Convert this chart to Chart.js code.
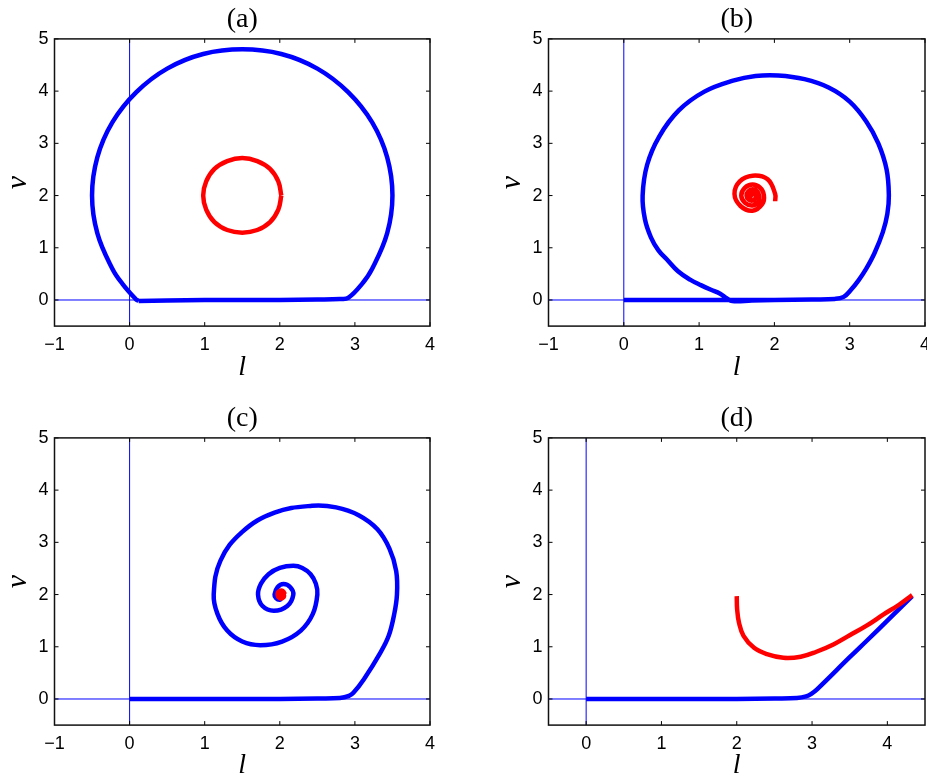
<!DOCTYPE html>
<html>
<head>
<meta charset="utf-8">
<script src="https://cdn.jsdelivr.net/npm/chart.js@4.4.1/dist/chart.umd.min.js"></script>
<style>
  html, body { margin: 0; padding: 0; background: #fff; overflow: hidden; }
  canvas { position: absolute; }
  #pa { left: 0; top: 0; }
  #pb { left: 494px; top: 0; }
  #pc { left: 0; top: 399px; }
  #pd { left: 494px; top: 399px; }
</style>
</head>
<body>
<canvas id="pa" width="463" height="390"></canvas>
<canvas id="pb" width="433" height="390"></canvas>
<canvas id="pc" width="463" height="381"></canvas>
<canvas id="pd" width="433" height="381"></canvas>
<script>
// axes
const yRange = [-0.5, 5];
const yTicks = [0, 1, 2, 3, 4, 5];
const xRangeABC = [-1, 4];
const xTicksABC = [-1, 0, 1, 2, 3, 4];
const xRangeD = [-0.5, 4.5];
const xTicksD = [0, 1, 2, 3, 4];
const titles = ["(a)", "(b)", "(c)", "(d)"];

// trajectories [l, v]
const blueA = [
  [0.12, -0.02], [0.5, -0.01], [1.0, 0.0], [1.5, 0.0], [2.0, 0.0], [2.5, 0.01], [2.8, 0.02],
  [2.91, 0.04], [3.09, 0.3], [3.23, 0.6], [3.43, 1.28], [3.50, 2.0], [3.43, 2.73], [3.23, 3.40],
  [2.91, 3.98], [2.50, 4.43], [2.02, 4.71], [1.50, 4.80], [0.98, 4.71], [0.50, 4.43], [0.09, 3.98],
  [-0.23, 3.40], [-0.43, 2.73], [-0.50, 2.0], [-0.43, 1.28], [-0.23, 0.6], [-0.09, 0.3],
  [0.08, 0.02], [0.12, -0.02]
];
const redA = [
  [2.02, 2.00], [1.98, 2.27], [1.87, 2.51], [1.70, 2.66], [1.50, 2.72], [1.30, 2.66], [1.13, 2.51],
  [1.02, 2.27], [0.98, 2.00], [1.02, 1.73], [1.13, 1.49], [1.30, 1.34], [1.50, 1.29], [1.70, 1.34],
  [1.87, 1.49], [1.98, 1.73], [2.02, 2.00]
];
const blueB = [
  [0.0, 0.0], [0.5, 0.0], [1.0, 0.0], [1.5, 0.0], [2.0, 0.0], [2.5, 0.01], [2.8, 0.02], [2.92, 0.06],
  [3.02, 0.2], [3.12, 0.38], [3.22, 0.6], [3.33, 0.9], [3.44, 1.3], [3.50, 1.65], [3.52, 2.0],
  [3.49, 2.5], [3.38, 3.0], [3.22, 3.42], [3.0, 3.8], [2.72, 4.07], [2.40, 4.23], [2.05, 4.30],
  [1.75, 4.29], [1.45, 4.20], [1.07, 3.99], [0.73, 3.63], [0.47, 3.13], [0.31, 2.59], [0.25, 2.0],
  [0.28, 1.55], [0.36, 1.2], [0.46, 0.95], [0.57, 0.78], [0.72, 0.55], [0.88, 0.39], [1.03, 0.28],
  [1.15, 0.2], [1.28, 0.12], [1.37, 0.03], [1.44, -0.02], [1.7, -0.01], [2.0, 0.0]
];
const redB = [
  [2.01, 1.89], [2.01, 2.03], [1.91, 2.31], [1.71, 2.38], [1.54, 2.27], [1.47, 2.03], [1.55, 1.80],
  [1.71, 1.71], [1.84, 1.84], [1.86, 2.01], [1.81, 2.15], [1.71, 2.21], [1.61, 2.15], [1.56, 2.0],
  [1.61, 1.86], [1.71, 1.81], [1.79, 1.885], [1.797, 2.0], [1.769, 2.084], [1.71, 2.119],
  [1.654, 2.081], [1.63, 2.0], [1.658, 1.925], [1.71, 1.904], [1.747, 1.946], [1.75, 2.0],
  [1.734, 2.034], [1.71, 2.048], [1.686, 2.034], [1.677, 2.0], [1.691, 1.973], [1.71, 1.962]
];
const blueC = [
  [0.0, 0.0], [0.5, 0.0], [1.0, 0.0], [1.5, 0.0], [2.0, 0.0], [2.5, 0.01], [2.8, 0.02], [2.92, 0.06],
  [2.98, 0.12], [3.12, 0.38], [3.34, 0.89], [3.45, 1.21], [3.52, 1.6], [3.56, 2.0], [3.55, 2.45],
  [3.46, 2.88], [3.30, 3.25], [3.05, 3.52], [2.75, 3.67], [2.43, 3.70], [1.93, 3.57],
  [1.50, 3.20], [1.21, 2.65], [1.12, 2.0], [1.17, 1.63], [1.30, 1.31], [1.50, 1.10], [1.74, 1.03],
  [2.03, 1.10], [2.28, 1.31], [2.44, 1.63], [2.50, 2.0], [2.48, 2.21], [2.41, 2.39], [2.30, 2.51],
  [2.18, 2.55], [2.00, 2.51], [1.85, 2.39], [1.75, 2.21], [1.71, 2.0], [1.77, 1.78], [1.92, 1.69],
  [2.10, 1.78], [2.18, 2.0], [2.14, 2.14], [2.05, 2.20], [1.97, 2.14], [1.93, 2.0], [1.95, 1.93],
  [2.0, 1.90], [2.03, 1.95]
];
const redC = [
  [2.07, 2.0], [2.04, 2.07], [1.99, 2.06], [1.97, 2.0], [2.0, 1.93], [2.05, 1.95], [2.05, 2.01],
  [2.02, 2.04], [1.99, 2.0], [2.02, 1.97], [2.03, 2.0]
];
const blueD = [
  [0.0, 0.0], [0.5, 0.0], [1.0, 0.0], [1.5, 0.0], [2.0, 0.0], [2.5, 0.01], [2.8, 0.02], [2.92, 0.05],
  [2.99, 0.1], [3.07, 0.19], [3.5, 0.8], [3.73, 1.12], [4.0, 1.5], [4.33, 1.97]
];
const redD = [
  [2.00, 1.97], [2.005, 1.72], [2.03, 1.46], [2.09, 1.21], [2.23, 0.98], [2.40, 0.86], [2.62, 0.79],
  [2.85, 0.81], [3.05, 0.9], [3.29, 1.05], [3.50, 1.22], [3.73, 1.41], [3.95, 1.62], [4.15, 1.8],
  [4.33, 1.99]
];

const toXY = (pts) => pts.map(([x, y]) => ({ x, y }));
const fmt = (v) => (v < 0 ? "\u2212" + Math.abs(v) : String(v));

// box round the axes + small inward ticks on all four sides
const frame = {
  id: "frame",
  afterDatasetsDraw(chart) {
    const { ctx, chartArea: a, scales } = chart;
    const x = scales.x, y = scales.y;
    ctx.save();
    ctx.strokeStyle = "#000";
    ctx.lineWidth = 1;
    ctx.beginPath();
    x.ticks.forEach((t) => {
      const px = x.getPixelForValue(t.value);
      ctx.moveTo(px, a.bottom); ctx.lineTo(px, a.bottom - 4);
      ctx.moveTo(px, a.top); ctx.lineTo(px, a.top + 4);
    });
    y.ticks.forEach((t) => {
      const py = y.getPixelForValue(t.value);
      ctx.moveTo(a.left, py); ctx.lineTo(a.left + 4, py);
      ctx.moveTo(a.right, py); ctx.lineTo(a.right - 4, py);
    });
    ctx.stroke();
    ctx.lineWidth = 1.5;
    ctx.strokeStyle = "#111";
    ctx.strokeRect(a.left, a.top, a.right - a.left, a.bottom - a.top);
    ctx.restore();
  },
};

function curve(pts, color) {
  return {
    data: toXY(pts),
    showLine: true,
    borderColor: color,
    borderWidth: 4.5,
    pointRadius: 0,
    tension: 0.4,
  };
}

function thin(pts) {
  return { data: toXY(pts), showLine: true, borderColor: "#0000ff", borderWidth: 1, pointRadius: 0 };
}

function makePanel(id, title, xRange, xTicks, red, blue, padRight, axisH, labelPad) {
  const ctx = document.getElementById(id).getContext("2d");
  new Chart(ctx, {
    type: "scatter",
    data: {
      datasets: [
        curve(red, "#ff0000"),
        curve(blue, "#0000ff"),
        thin([[0, yRange[0]], [0, yRange[1]]]),
        thin([[xRange[0], 0], [xRange[1], 0]]),
      ],
    },
    options: {
      responsive: false,
      animation: false,
      layout: { padding: { left: 0, right: padRight, top: 0, bottom: 0 } },
      plugins: {
        legend: { display: false },
        tooltip: { enabled: false },
        title: {
          display: true,
          text: title,
          fullSize: false,
          color: "#000",
          font: { family: "Liberation Serif", size: 28, weight: "normal", lineHeight: 1 },
          padding: { top: 6, bottom: 4.9 },
        },
      },
      scales: {
        x: {
          type: "linear",
          min: xRange[0],
          max: xRange[1],
          afterBuildTicks: (s) => { s.ticks = xTicks.map((v) => ({ value: v })); },
          afterFit: (s) => { s.height = axisH; s.paddingLeft = 0; s.paddingRight = 0; },
          grid: { display: false, drawTicks: false },
          border: { display: false },
          ticks: {
            autoSkip: false,
            maxRotation: 0,
            padding: 8,
            color: "#000",
            font: { family: "Liberation Sans", size: 18 },
            callback: (v) => fmt(v),
          },
          title: {
            display: true,
            text: "l",
            color: "#000",
            font: { family: "Liberation Serif", style: "italic", size: 28, lineHeight: 1 },
            padding: { top: 0, bottom: labelPad },
          },
        },
        y: {
          type: "linear",
          min: yRange[0],
          max: yRange[1],
          afterBuildTicks: (s) => { s.ticks = yTicks.map((v) => ({ value: v })); },
          afterFit: (s) => { s.width = 54.5; s.paddingTop = 0; s.paddingBottom = 0; },
          grid: { display: false, drawTicks: false },
          border: { display: false },
          ticks: {
            autoSkip: false,
            padding: 6,
            color: "#000",
            font: { family: "Liberation Sans", size: 18 },
            callback: (v) => fmt(v),
          },
          title: {
            display: true,
            text: "v",
            color: "#000",
            font: { family: "Liberation Serif", style: "italic", size: 30, lineHeight: 1 },
            padding: { top: 3, bottom: 0 },
          },
        },
      },
    },
    plugins: [frame],
  });
}

makePanel("pa", titles[0], xRangeABC, xTicksABC, redA, blueA, 33, 63.9, 8);
makePanel("pb", titles[1], xRangeABC, xTicksABC, redB, blueB, 2, 63.9, 8);
makePanel("pc", titles[2], xRangeABC, xTicksABC, redC, blueC, 33, 54.9, 0);
makePanel("pd", titles[3], xRangeD, xTicksD, redD, blueD, 2, 54.9, 0);
</script>
</body>
</html>
